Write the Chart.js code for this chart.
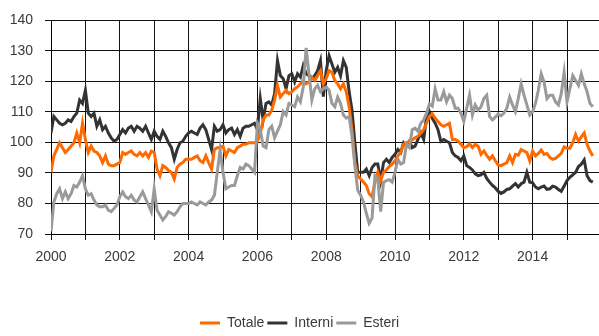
<!DOCTYPE html>
<html>
<head>
<meta charset="utf-8">
<script src="https://cdn.jsdelivr.net/npm/chart.js@4/dist/chart.umd.min.js"></script>
<style>
  html, body { margin: 0; padding: 0; background: #fff; overflow: hidden; }
  #wrap { width: 599px; height: 336px; }
</style>
</head>
<body>
<div id="wrap"><canvas id="c" width="599" height="336"></canvas></div>
<script>
// Monthly series, January 2000 onwards
const START_YEAR = 2000;

const interni = [
  103.1,108.5,107.4,106.3,105.8,106.3,107.4,106.9,108.5,109.6,113.9,112.8,
  117.1,109.6,108.5,109.6,105.3,107.4,104.2,105.3,103.1,101.5,100.4,101,
  102.6,104.2,103.1,104.7,105.3,103.7,105.3,104.7,103.7,105.3,103.1,101,
  103.7,102,101,103.7,102,99.9,98.3,94.5,97.7,99.9,100.4,102,
  103.1,103.7,103.1,102.6,104.7,105.8,104.2,101,97.7,105.3,103.7,104.2,
  105.8,103.1,104.2,104.7,102.6,104.2,102,104.7,105.3,105.3,105.8,106.3,
  104.2,114.4,107.4,112.8,113.3,112.3,116,126.8,121.9,120.9,117.6,121.9,
  122.5,119.8,122.5,121.4,125.2,122.5,121.9,120.9,121.9,123.5,126.8,115,
  123.5,128.4,125.7,123,124.6,121.9,126.8,124.6,116.6,110.6,99.9,90.2,
  90.2,90.2,91.3,89.1,91.8,92.9,92.9,87.5,93.4,94.5,93.4,95.1,
  96.1,97.7,96.7,99.9,98.8,100.4,98.3,98.8,101,103.1,101,108.5,
  110.1,107.9,106.3,104.2,100.4,101,100.4,99.9,96.7,95.6,95.1,94,
  95.6,92.4,91.8,91,89.7,89.1,89.4,90.2,88.2,87,85.9,85.1,
  84,83.3,83.8,84.6,84.8,85.7,86.5,85.4,86.5,87,90.2,87,
  86.8,85.4,84.8,85.4,85.7,84.6,84.8,85.7,85.4,84.6,84,85.7,
  87.5,88.6,89.4,90.2,92.1,92.9,94.3,89.1,87.5,87
];

const totale = [
  90.2,95.6,97.7,99.9,98.3,96.7,97.7,98.8,99.9,103.1,99.9,106.3,
  101,96.7,98.8,97.2,96.7,95.6,93.4,95.6,92.9,92.4,92.4,92.9,
  93.4,96.7,96.1,96.7,97.2,96.1,95.6,96.7,95.6,96.7,95.1,97.2,
  96.7,91.3,89.1,92.4,91.8,90.8,90.2,88,91.8,92.9,93.4,94.5,
  94.5,94.5,95.1,95.6,94,93.4,95.6,93.4,91.3,97.7,98.3,98.3,
  98.8,95.6,97.7,97.2,96.7,98.3,98.8,99.4,99.4,99.9,99.9,99.9,
  100.4,103.1,107.4,109,109,110.6,113.9,118.7,114.9,116,117.1,116,
  116.6,117.6,118.2,119.2,120.3,119.2,119.8,121.4,120.3,121.9,123.5,119.2,
  120.9,123.5,123,120.3,119.2,117.6,119.2,116.6,111.7,104.2,93.4,89.1,
  88,87,85.9,83.2,82.2,87,90.2,87.5,90.2,91,92.1,92.9,
  94,95.6,96.7,99.4,99.9,100.4,100.8,101.5,102,103.1,104.2,106.3,
  108.5,109.4,108,106.9,105.8,105.3,105.8,106.3,101,101,100.4,99.4,
  98.3,98.6,99.6,98.3,99.4,98.8,96.1,97.2,95.8,94.5,95.6,94,
  92.6,92.4,92.9,93.4,95.6,93.4,96.1,95.8,97.7,97.2,96.7,94,
  97.2,95.6,96.4,97.5,96.1,96.4,95.1,94.5,94.8,95.6,96.4,98.6,
  98.1,98.1,99.9,102.6,100.4,101.8,103.1,99.4,97.2,95.6
];

const esteri = [
  70.9,80.5,83.2,84.8,81.6,83.8,81.6,83.2,85.9,85.4,87,89.1,
  84.8,82.7,83.2,81.1,79.5,78.9,78.9,79.5,77.8,77.3,78.4,79.5,
  82.2,83.8,82.2,81.6,82.7,81.1,80.5,82.2,83.8,81.6,79.5,77.3,
  84.8,77.8,76.2,74.6,75.7,77.3,76.8,76.2,77.3,78.9,80,80,
  80,80.5,80,79.5,80.5,80,79.5,80.5,81.1,82.7,90.2,97.7,
  90.2,84.8,85.4,85.9,85.9,89.1,91.8,91.3,92.9,92.4,91.3,90.2,
  106.3,104.2,98.8,98.3,104.2,105.3,101.5,103.7,105.8,110.1,109,112.8,
  112.3,111.7,114.9,113.3,118.2,131,122.5,113.9,117.6,118.7,116.6,117.6,
  118.2,117.1,112.8,111.7,114.9,112.8,109,108,108.5,102,92.4,84.3,
  82.7,80.5,76.8,73.5,75.2,89.1,88,77.3,87,87.5,87.8,87,
  90.2,94.5,92.9,93.4,99.4,98.3,104.2,104.7,103.7,106.3,107.4,109.6,
  112.6,111.9,117.6,113.9,113.9,116.6,113.3,115.5,114.4,111.2,111.2,109.6,
  106.9,111.2,115.5,109,112.3,110.6,111.7,114.4,115.5,108.5,107.4,108.3,
  109.4,108.7,109.6,111.2,114.9,112.3,110.1,114.4,119.2,115.5,112.3,109,
  110.1,112.8,117.1,122.5,119.8,114.4,115.5,115.5,113.3,112.3,116,123,
  113.3,117.6,121.9,120.3,118.7,122.5,119.2,116.6,112.8,111.7
];

const seriesNames = ['Totale', 'Interni', 'Esteri'];
const seriesColors = ['#ff6a00', '#333333', '#9a9a9a'];
const yTicks = [70, 80, 90, 100, 110, 120, 130, 140];

// time position (in years) of each monthly observation
const toPoints = vals => vals.map((v, i) => ({ x: START_YEAR + i / 12, y: v }));

const FONT = "'Liberation Sans', Arial, Helvetica, sans-serif";
const TEXT = '#3a3a3a';
const GRID = '#111111';

const datasets = [totale, interni, esteri].map((vals, i) => ({
  label: seriesNames[i],
  data: toPoints(vals),
  borderColor: seriesColors[i],
  backgroundColor: seriesColors[i],
  borderWidth: 3,
  pointRadius: 0,
  tension: 0,
  // Esteri on top, Interni underneath
  order: [1, 2, 0][i]
}));

new Chart(document.getElementById('c'), {
  type: 'line',
  data: { datasets },
  options: {
    responsive: false,
    animation: false,
    events: [],
    layout: { padding: { top: 17, left: 0, right: 0, bottom: -4 } },
    plugins: {
      tooltip: { enabled: false },
      title: { display: false },
      legend: {
        position: 'bottom',
        labels: {
          font: { family: FONT, size: 14 },
          color: TEXT,
          boxWidth: 20,
          boxHeight: 3,
          padding: 3,
          generateLabels: chart => seriesNames.map((name, i) => ({
            text: name,
            fillStyle: seriesColors[i],
            strokeStyle: seriesColors[i],
            lineWidth: 0,
            hidden: false,
            datasetIndex: i,
            fontColor: TEXT
          }))
        }
      }
    },
    scales: {
      x: {
        type: 'linear',
        min: START_YEAR,
        max: 2015.93,
        afterFit: s => { s.height = 79; },
        grid: { color: GRID, lineWidth: 1, tickLength: 6, tickColor: GRID },
        border: { color: '#000', width: 1 },
        ticks: {
          stepSize: 1,
          includeBounds: false,
          autoSkip: false,
          maxRotation: 0,
          padding: 9,
          color: TEXT,
          font: { family: FONT, size: 14 },
          callback: v => (v % 2 === 0 ? String(v) : '')
        }
      },
      y: {
        min: yTicks[0],
        max: yTicks[yTicks.length - 1],
        afterFit: s => { s.width = 51; },
        afterBuildTicks: s => { s.ticks = yTicks.map(v => ({ value: v })); },
        grid: { color: GRID, lineWidth: 1, tickLength: 6, tickColor: GRID },
        border: { color: '#000', width: 1 },
        ticks: {
          padding: 12,
          color: TEXT,
          font: { family: FONT, size: 14 }
        }
      }
    }
  }
});
</script>
</body>
</html>
